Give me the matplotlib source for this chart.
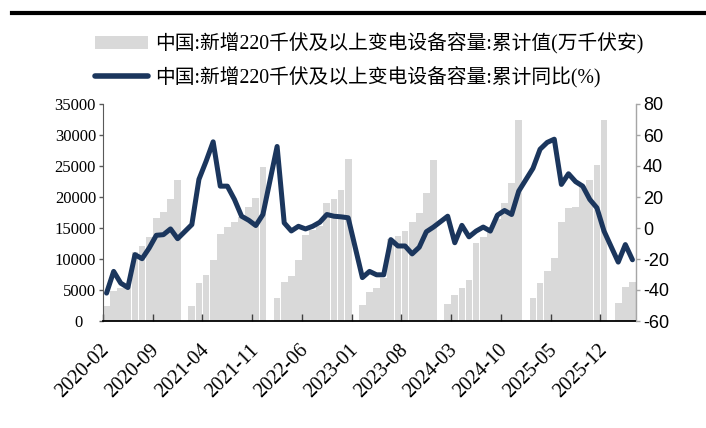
import numpy as np
import pandas as pd
import matplotlib
matplotlib.use("Agg")
import matplotlib.pyplot as plt
from matplotlib.patches import Patch
from matplotlib.lines import Line2D
from matplotlib.transforms import ScaledTranslation

# 月度数据 2020-02 ~ 2026-04, 每年1月无数据
months = pd.period_range("2020-02", "2026-04", freq="M").strftime("%Y-%m").tolist()

# 累计值(万千伏安), 每年 2~12 月
cum_2020 = [2400, 4800, 5400, 5900, 11200, 12100, 13600, 16600, 17600, 19600, 22700]
cum_2021 = [2430, 6100, 7450, 9830, 14070, 15200, 16000, 16770, 18400, 19820, 24800]
cum_2022 = [3670, 6300, 7290, 9880, 13930, 14600, 15280, 19070, 19600, 21120, 26090]
cum_2023 = [2590, 4620, 5350, 6960, 13250, 13660, 14520, 16000, 17400, 20630, 26040]
cum_2024 = [2700, 4210, 5290, 6640, 12570, 13580, 14600, 16500, 19070, 22310, 32500]
cum_2025 = [3670, 6150, 7990, 10150, 15960, 18200, 18400, 21800, 22700, 25200, 32500]
cum_2026 = [2860, 5430, 6370]

# 累计同比(%)
yoy_2020 = [-42, -28, -35.6, -38.4, -17.2, -19.8, -12.9, -4.7, -4.3, -0.6, -6.9]
yoy_2021 = [2.2, 31.4, 43, 55.6, 27, 27, 18.4, 7.6, 5, 1.6, 8.7]
yoy_2022 = [52.6, 3.3, -1.9, 1.1, -0.6, 1.1, 3.7, 8.7, 7.6, 7.2, 6.6]
yoy_2023 = [-32, -28, -30.2, -30.2, -7.5, -11.6, -11.6, -16.7, -12.4, -2.4, 0.6]
yoy_2024 = [7.6, -9.5, 1.7, -5.7, -2, 0.6, -2, 8.3, 11.3, 8.7, 23.8]
yoy_2025 = [38.5, 50.8, 55.2, 57.3, 28.1, 35, 29.9, 27, 18.4, 13, -2]
yoy_2026 = [-22, -10.7, -20.5]

left_ticks = [0, 5000, 10000, 15000, 20000, 25000, 30000, 35000]
right_ticks = [-60, -40, -20, 0, 20, 40, 60, 80]

label_cum = "中国:新增220千伏及以上变电设备容量:累计值(万千伏安)"
label_yoy = "中国:新增220千伏及以上变电设备容量:累计同比(%)"


def join_years(parts):
    vals = []
    for k, p in enumerate(parts):
        if k > 0:
            vals.append(np.nan)  # 1月
        vals.extend(p)
    return np.array(vals, dtype=float)


cum = join_years([cum_2020, cum_2021, cum_2022, cum_2023, cum_2024, cum_2025, cum_2026])
yoy = join_years([yoy_2020, yoy_2021, yoy_2022, yoy_2023, yoy_2024, yoy_2025, yoy_2026])
x = np.arange(len(months))

serif = ["Liberation Serif", "Noto Sans CJK SC"]
sans = ["Liberation Sans", "Noto Sans CJK SC"]
bar_color = "#d9d9d9"
line_color = "#1b365d"

fig = plt.figure(figsize=(7.06, 4.28), dpi=100)
ax = fig.add_axes([103 / 706, 1 - 321 / 428, 533 / 706, 217 / 428])
ax2 = ax.twinx()

ok = ~np.isnan(cum)
ax.bar(x[ok], cum[ok], width=0.95, color=bar_color, zorder=1)
ok = ~np.isnan(yoy)
ax2.plot(x[ok], yoy[ok], color=line_color, lw=3.6, solid_joinstyle="round",
         solid_capstyle="round", zorder=3)

ax.set_xlim(-0.5, len(months) - 0.5)
ax.set_ylim(0, 35000)
ax2.set_ylim(-60, 80)

ax.set_yticks(left_ticks)
ax.set_yticklabels([str(v) for v in left_ticks], family=serif, fontsize=12)
ax2.set_yticks(right_ticks)
ax2.set_yticklabels([str(v) for v in right_ticks], family=sans, fontsize=13)

lab_pos = x[::7]
ax.set_xticks(lab_pos)
ax.set_xticklabels([months[i] for i in lab_pos], rotation=45, ha="right", va="center",
                   rotation_mode="anchor", family=serif, fontsize=14.5)
ax.set_xticks(lab_pos - 0.5, minor=True)
ax.tick_params(axis="x", which="major", length=0, pad=19)
ax.tick_params(axis="x", which="minor", direction="in", length=5, width=1, color="#404040")
ax.tick_params(axis="y", direction="out", length=3, width=1, color="#595959", pad=2)
ax2.tick_params(axis="y", direction="out", length=3, width=1, color="#a6a6a6", pad=2)

for a in (ax, ax2):
    a.spines["top"].set_visible(False)
ax.spines["left"].set_color("#595959")
ax.spines["bottom"].set_color("black")
ax.spines["bottom"].set_linewidth(1.3)
ax2.spines["right"].set_color("#a6a6a6")
ax2.spines["left"].set_visible(False)
ax2.spines["bottom"].set_visible(False)

# 0 的标签偏左
zero_lab = ax.yaxis.get_major_ticks()[0].label1
zero_lab.set_transform(zero_lab.get_transform() + ScaledTranslation(-0.13, 0, fig.dpi_scale_trans))

handles = [Patch(facecolor=bar_color, edgecolor="none"),
           Line2D([], [], color=line_color, lw=4, solid_capstyle="round")]
fig.legend(handles, [label_cum, label_yoy], loc="upper left",
           bbox_to_anchor=(95 / 706, 1 - 33 / 428), frameon=False,
           prop={"family": serif, "size": 14.2}, handlelength=2.7, handletextpad=0.35,
           labelspacing=0.62, borderpad=0, borderaxespad=0)

fig.add_artist(Line2D([12 / 706, 1], [1 - 13 / 428, 1 - 13 / 428], color="black", lw=3))

fig.savefig("out.png", dpi=100)
